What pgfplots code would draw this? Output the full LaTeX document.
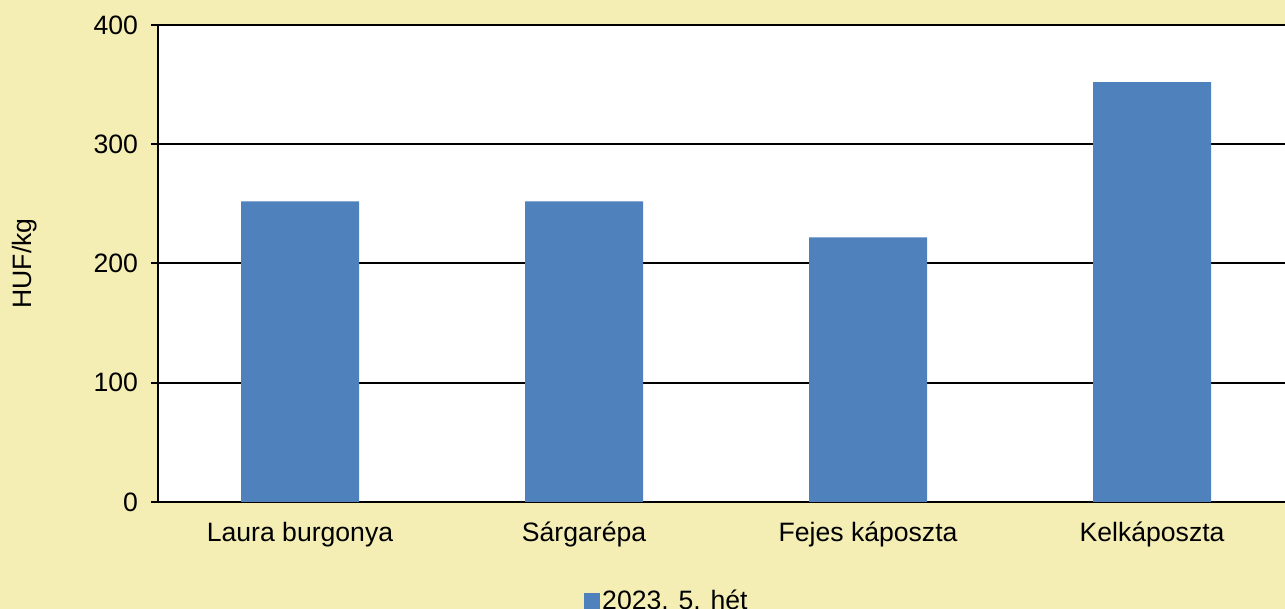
\documentclass[border=0pt]{standalone}
\usepackage{pgfplots}
\pgfplotsset{compat=1.18}
\usepackage{fontspec}
\setmainfont{Liberation Sans}
\definecolor{bgyellow}{RGB}{244,238,180}
\definecolor{barblue}{RGB}{79,129,189}
\newcommand{\chartfont}{\fontsize{13.3}{16}\selectfont}

\begin{document}
\begin{tikzpicture}
\path[use as bounding box] (-79pt,-53.5pt) rectangle (563.5pt,251pt);
\clip (-79pt,-53.5pt) rectangle (563.5pt,251pt);
\fill[bgyellow] (-79pt,-53.5pt) rectangle (563.5pt,251pt);
\begin{axis}[at={(0pt,0pt)}, anchor=south west,
  scale only axis, width=563.5pt, height=238.5pt,
  axis background/.style={fill=white},
  xmin=-0.5, xmax=3.468, ymin=0, ymax=400,
  ytick={0,100,200,300,400},
  xtick={0,1,2,3},
  xticklabels={Laura burgonya,Sárgarépa,Fejes káposzta,Kelkáposzta},
  axis x line=bottom, axis y line=left,
  axis line style={line width=1pt,black,-},
  ymajorgrids, grid style={line width=1pt,black},
  tick align=outside, major tick length=3.5pt,
  ytick style={line width=1pt,black},
  xtick style={draw=none},
  /pgf/number format/assume math mode=true,
  tick label style={font=\chartfont},
  yticklabel style={xshift=-3pt},
  xticklabel style={yshift=-3pt},
  ylabel={HUF/kg},
  ylabel style={font=\chartfont, at={(axis description cs:-0.118,0.5)}, anchor=center},
  legend style={at={(axis description cs:0.4516,-0.207)}, anchor=center,
    draw=none, fill=none, font=\chartfont, nodes={inner sep=1pt}},
]
\addplot[ybar, bar width=59pt, fill=barblue, draw=none,
  legend image code/.code={\fill[barblue] (0pt,-4pt) rectangle (8pt,4pt);}]
  coordinates {(0,252) (1,252) (2,222) (3,352)};
\addlegendentry{2023. 5. hét}
\end{axis}
\end{tikzpicture}
\end{document}
